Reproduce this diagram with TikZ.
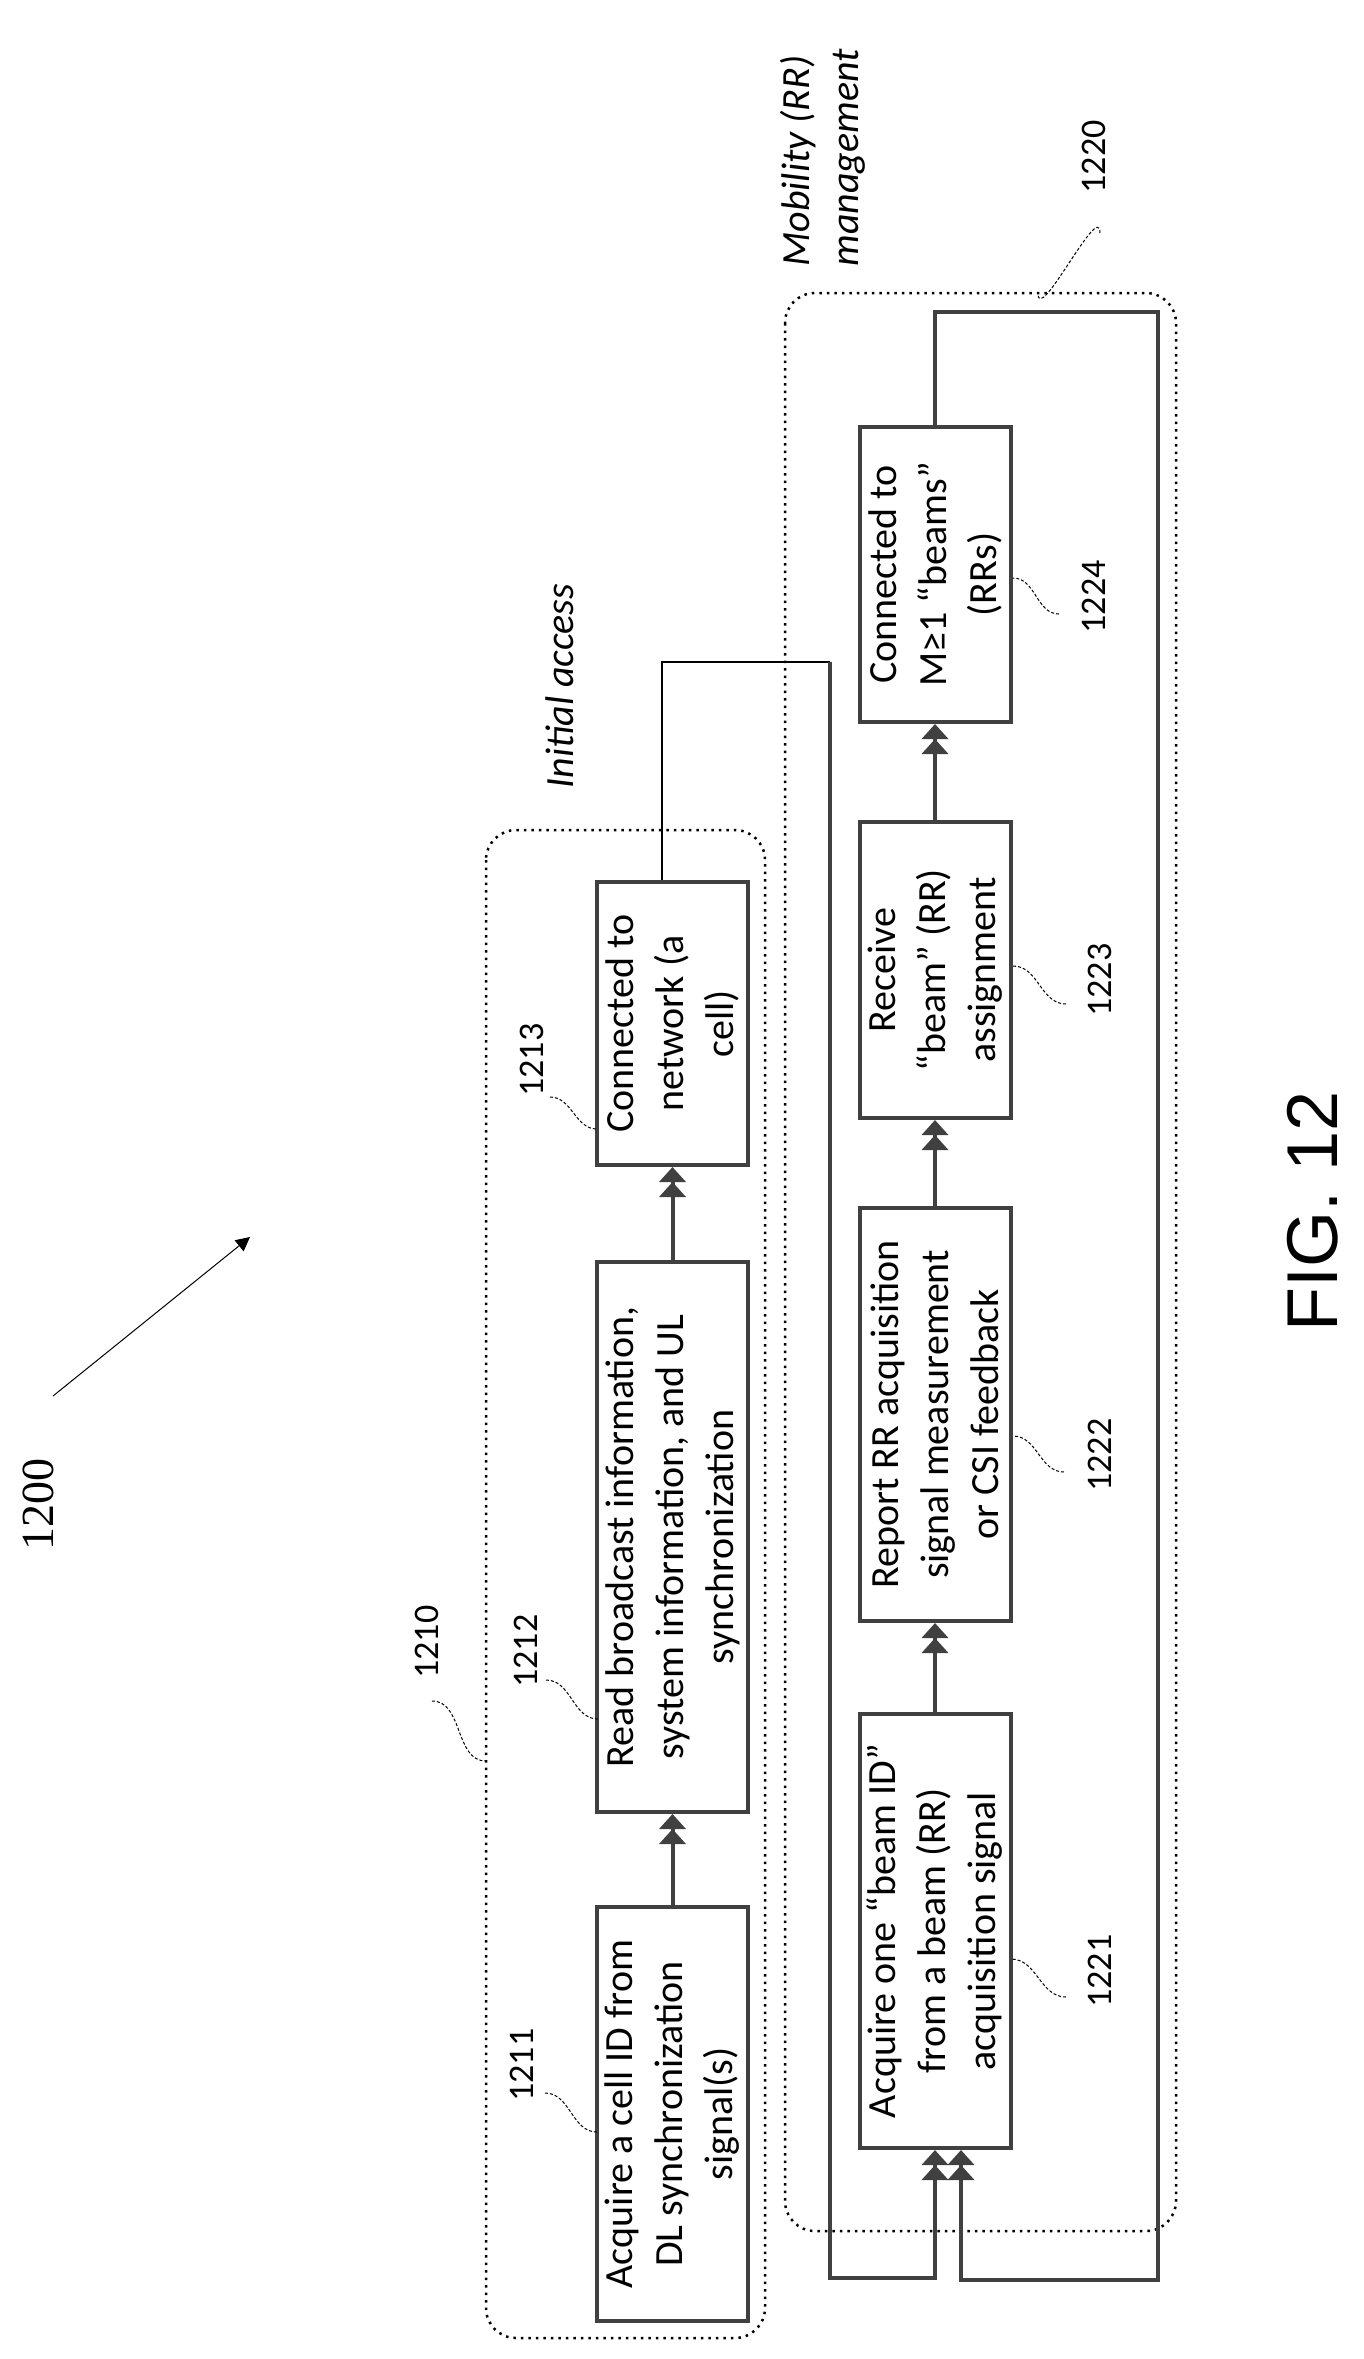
\documentclass[tikz,border=0pt]{standalone}
\usepackage{fontspec}
\setmainfont{Carlito}
\newfontfamily\figfont{Liberation Sans}
\newfontfamily\numserif{Liberation Serif}
\usetikzlibrary{arrows.meta}
\begin{document}
\begin{tikzpicture}[x=1pt,y=-1pt,
  box/.style={draw=black!75,line width=4pt,rotate=90,minimum height=151pt,inner sep=0pt,align=center,font=\fontsize{40}{50}\selectfont},
  dtip/.style={-{Triangle[length=15pt,width=26pt,fill=black!75]Triangle[length=15pt,width=26pt,fill=black!75]}},
  flow/.style={draw=black!75,line width=4pt,dtip},
  thick line/.style={draw=black!75,line width=4pt},
  group/.style={draw=black,line width=2.5pt,dash pattern=on 2.5pt off 5pt,rounded corners=30pt},
  lead/.style={draw=black,line width=1pt,dash pattern=on 3pt off 2pt},
  num/.style={rotate=90,font=\fontsize{36}{36}\selectfont},
  ital/.style={rotate=90,anchor=west,font=\fontsize{40}{40}\selectfont\itshape}]
\useasboundingbox (0,0) rectangle (1363,2359);
% groups
\draw[group] (486,830) rectangle (765,2338);
\draw[group] (785,293) rectangle (1176,2231);
% boxes
\node[box,minimum width=414pt] (b1211) at (672.5,2114) {Acquire a cell ID from\\DL synchronization\\signal(s)};
\node[box,minimum width=550pt] (b1212) at (672.5,1537) {Read broadcast information,\\system information, and UL\\synchronization};
\node[box,minimum width=283pt] (b1213) at (672.5,1023.5) {Connected to\\network (a\\cell)};
\node[box,minimum width=434pt] (b1221) at (935,1931) {Acquire one “beam ID”\\from a beam (RR)\\acquisition signal};
\node[box,minimum width=413pt] (b1222) at (935,1414.5) {Report RR acquisition\\signal measurement\\or CSI feedback};
\node[box,minimum width=296pt] (b1223) at (935,970) {Receive\\“beam” (RR)\\assignment};
\node[box,minimum width=295pt] (b1224) at (935,574.5) {Connected to\\M≥1 “beams”\\(RRs)};
% flow arrows
\draw[flow] (b1211.east) -- (b1212.west);
\draw[flow] (b1212.east) -- (b1213.west);
\draw[flow] (b1221.east) -- (b1222.west);
\draw[flow] (b1222.east) -- (b1223.west);
\draw[flow] (b1223.east) -- (b1224.west);
% connection from 1213
\coordinate (c1) at (662,662);
\coordinate (c2) at (830,662);
\coordinate (c3) at (830,2278);
\draw[black,line width=1.5pt] ([xshift=0pt]b1213.east -| c1) -- (c1) -- (c2);
\draw[flow] (c2) -- (c3) -| (b1221.west);
% loop from 1224
\coordinate (l1) at (1158,312);
\coordinate (l2) at (1158,2280);
\coordinate (l3) at (961,2280);
\draw[flow] (b1224.east) |- (l1) -- (l2) -- (l3) -- ([xshift=26pt]b1221.west);
% labels
\node[rotate=90,font=\numserif\fontsize{46}{46}\selectfont] (t1200) at (38,1504) {1200};
\coordinate (a1) at (53,1396);
\coordinate (a2) at (250,1237);
\draw[black,line width=1pt,-{Triangle[length=14pt,width=14pt]}] (a1) -- (a2);
\node[num] (t1210) at (427,1642) {1210};
\draw[lead] (432,1701) to[out=0,in=180,looseness=1] (486,1761);
\node[num] (t1211) at (522,2065) {1211};
\draw[lead] (545,2093) to[out=0,in=180] (597,2132);
\node[num] (t1212) at (526,1651) {1212};
\draw[lead] (546,1680) to[out=0,in=180] (598,1719);
\node[num] (t1213) at (532,1060) {1213};
\draw[lead] (550,1097) to[out=0,in=180] (597,1129);
\node[num] (t1221) at (1100,1971) {1221};
\draw[lead] (1066,1997) to[out=180,in=0] (1011,1959);
\node[num] (t1222) at (1100,1455) {1222};
\draw[lead] (1064,1472) to[out=180,in=0] (1013,1436);
\node[num] (t1223) at (1100,980) {1223};
\draw[lead] (1066,1004) to[out=180,in=0] (1013,966);
\node[num] (t1224) at (1094,597) {1224};
\draw[lead] (1059,614) to[out=180,in=0] (1013,578);
\node[num] (t1220) at (1094,157) {1220};
\draw[lead] (1100,233) to[out=90,in=-90] (1038,293);
\node[ital] (tia) at (560,792) {Initial access};
\node[ital] (tm1) at (798,270) {Mobility (RR)};
\node[ital] (tm2) at (849,270) {management};
\node[rotate=90,font=\figfont\fontsize{72}{72}\selectfont] (fig) at (1313,1211) {FIG. 12};
\end{tikzpicture}
\end{document}
